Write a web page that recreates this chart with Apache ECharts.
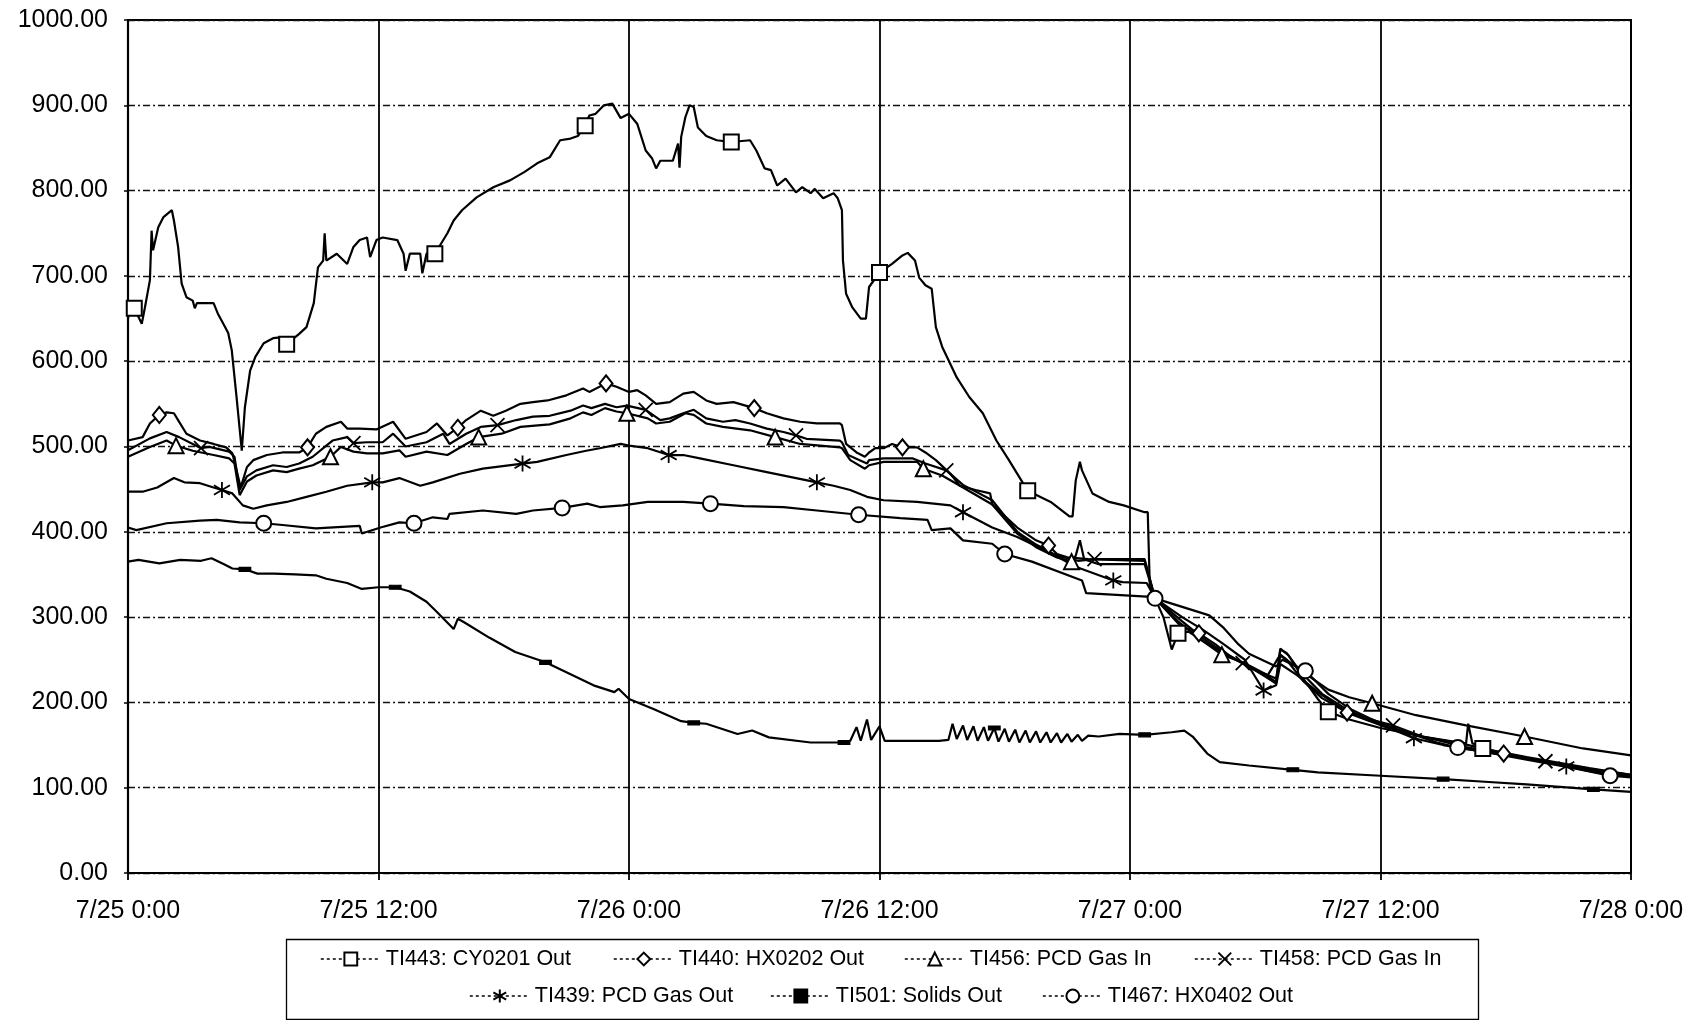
<!DOCTYPE html>
<html>
<head>
<meta charset="utf-8">
<script src="https://cdn.jsdelivr.net/npm/echarts@6/dist/echarts.min.js"></script>
<style>
html,body{margin:0;padding:0;background:#fff;}
#chart{width:1702px;height:1020px;}
</style>
</head>
<body>
<div id="chart"></div>
<script>
// ---- axis tick labels ----
const xTickLabels = ['7/25 0:00','7/25 12:00','7/26 0:00','7/26 12:00','7/27 0:00','7/27 12:00','7/28 0:00'];

// ---- series names ----
const names = ['TI443: CY0201 Out','TI440: HX0202 Out','TI456: PCD Gas In','TI458: PCD Gas In',
               'TI439: PCD Gas Out','TI501: Solids Out','TI467: HX0402 Out'];

// ---- data: [hours since 7/25 0:00, temperature] ----
const ti443 = [[0,650],[0.1,663],[0.3,662],[0.66,644],[0.81,663],[1.05,695],[1.13,753],[1.2,730],[1.45,757],[1.7,769],[2.1,777],[2.2,765],[2.4,734],[2.57,691],[2.8,675],[3.1,671],[3.2,662],[3.3,668],[4.1,668],[4.3,656],[4.65,640],[4.8,633],[4.97,613],[5.2,558],[5.45,495],[5.6,546],[5.85,589],[6.1,605],[6.5,621],[6.95,627],[7.3,628],[7.6,620],[8.2,632],[8.55,640],[8.9,668],[9.1,710],[9.35,718],[9.42,750],[9.5,718],[10.0,726],[10.5,714],[10.8,734],[11.1,742],[11.45,745],[11.6,722],[11.9,742],[12.2,745],[12.9,742],[13.2,726],[13.3,706],[13.5,726],[14.0,726],[14.1,703],[14.3,726],[14.7,726],[15.3,750],[15.6,765],[16.0,777],[16.7,792],[17.5,804],[18.3,812],[19.0,822],[19.6,832],[20.2,839],[20.7,859],[21.2,861],[21.55,864],[21.9,876],[22.1,888],[22.4,890],[22.8,900],[23.2,902],[23.6,885],[24.0,890],[24.4,878],[24.8,847],[25.1,838],[25.3,826],[25.5,835],[26.1,835],[26.35,855],[26.42,827],[26.5,863],[26.7,886],[26.9,900],[27.1,898],[27.3,874],[27.7,864],[28.2,859],[28.9,857],[29.8,859],[30.1,847],[30.5,826],[30.8,824],[31.1,806],[31.5,814],[32.0,798],[32.3,804],[32.7,797],[32.9,802],[33.3,791],[33.8,797],[34.0,791],[34.2,777],[34.25,718],[34.4,679],[34.7,663],[35.1,650],[35.35,650],[35.5,687],[36.0,704],[36.6,714],[37.1,724],[37.35,727],[37.7,718],[37.9,698],[38.2,689],[38.5,685],[38.7,640],[39.0,617],[39.7,581],[40.3,558],[40.95,539],[41.6,507],[42.2,484],[43.1,448],[44.2,435],[45.1,418],[45.25,418],[45.4,460],[45.6,482],[45.7,472],[46.2,445],[47.0,435],[47.7,431],[48.7,423],[48.85,423],[48.95,335],[49.2,322],[49.6,300],[50.0,262],[50.3,281],[50.8,283],[51.5,272],[52.5,258],[53.5,245],[54.5,230],[55.0,222],[55.2,263],[55.6,255],[56.3,228],[57.0,204],[57.5,189],[58.5,180],[60.0,170],[62.0,160],[63.5,154],[64.1,152],[64.2,175],[64.4,152],[64.9,146],[67.0,136],[70.0,123],[72.0,115]];

const ti440 = [[0,507],[0.7,511],[1.05,527],[1.5,537],[1.85,540],[2.2,539],[2.4,531],[2.8,515],[3.45,507],[4.1,503],[4.7,499],[5.0,492],[5.4,452],[5.7,476],[6.0,484],[6.65,490],[7.4,493],[8.2,493],[8.6,499],[9.0,515],[9.5,523],[10.2,529],[10.5,521],[11.1,521],[11.9,520],[12.7,529],[13.3,509],[14.3,517],[14.8,527],[15.3,513],[15.8,522],[16.2,531],[16.9,542],[17.5,536],[18.1,542],[18.8,550],[19.4,552],[20.1,554],[21.0,560],[21.8,568],[22.1,564],[22.9,574],[23.4,570],[24.0,564],[24.4,566],[24.8,560],[25.3,550],[25.95,552],[26.6,562],[27.1,564],[27.7,554],[28.2,550],[29.0,552],[30.0,545],[30.6,539],[31.4,533],[32.2,529],[33.0,527],[34.1,527],[34.2,525],[34.4,503],[34.9,493],[35.3,488],[35.5,493],[35.8,498],[36.2,498],[36.6,503],[37.1,499],[37.8,499],[38.2,493],[38.7,484],[39.4,468],[39.85,454],[40.6,449],[41.3,445],[41.4,432],[42.6,405],[43.5,390],[44.1,384],[44.5,374],[45.0,370],[46.0,368],[48.7,366],[49.2,322],[50.4,290],[51.3,281],[52.1,268],[52.9,252],[54.0,238],[55.0,228],[55.2,255],[55.5,250],[56.3,225],[57.2,205],[58.4,188],[59.5,178],[60.6,168],[62.0,160],[64.0,148],[65.9,140],[68.0,130],[70.0,120],[72.0,113]];

const ti456 = [[0,488],[1.05,499.5],[1.85,507],[2.3,501],[3.1,495],[4.1,490],[4.85,486],[5.1,480],[5.35,443],[5.7,459],[6.15,466],[6.95,472],[7.6,470],[8.2,474],[8.85,478],[9.7,488],[10.2,499.5],[10.8,494],[11.45,492],[12.2,492],[13.0,495.5],[13.3,488],[14.3,494],[15.3,490],[16.2,503],[16.8,511],[17.9,515],[18.8,523],[20.2,526],[21.2,533],[21.8,540],[22.2,537],[22.85,545],[23.4,541],[23.9,539],[24.9,533],[25.3,527],[25.95,529],[26.7,539],[27.1,537],[27.7,527],[28.5,523],[29.8,519],[31.0,511],[32.2,503],[34.1,499],[34.2,498],[34.6,484],[35.3,474],[35.5,478],[36.2,482],[37.8,482],[38.1,474],[39.0,466],[40.0,452],[41.4,432],[42.6,398],[43.5,382],[44.5,370],[45.2,365],[45.4,372],[45.6,390],[45.8,368],[46.5,362],[48.7,362],[49.2,322],[50.3,295],[51.3,275],[52.4,256],[53.5,246],[54.6,232],[55.2,256],[55.6,248],[56.5,232],[57.5,215],[58.5,206],[59.6,199],[61.7,185],[64.1,173],[66.9,160],[69.7,146],[72.0,138]];

const ti458 = [[0,495.5],[1.05,509.5],[1.85,517],[2.45,511],[3.1,503],[3.5,498],[3.9,499.5],[4.85,494],[5.1,488],[5.35,449],[5.7,465],[6.15,472],[6.95,478],[7.6,476],[8.2,480],[8.85,488],[9.5,501],[9.8,507],[10.5,511],[10.8,504],[11.45,505],[12.2,505],[12.7,515],[13.3,500],[14.3,505],[15.1,515],[15.4,503],[16.2,515],[16.9,523],[17.7,525],[18.6,531],[19.4,535],[20.2,536],[21.2,542],[21.8,548],[22.2,545],[22.85,550],[23.4,546],[23.9,548],[24.8,543],[25.5,531],[25.95,533],[26.6,539],[27.1,543],[27.7,533],[28.5,529],[29.1,531],[29.8,527],[30.6,521],[31.4,517],[32.0,513],[32.5,509],[34.1,507],[34.2,505],[34.5,490],[35.05,484],[35.4,480],[35.5,484],[36.2,486],[37.6,486],[38.2,480],[39.2,472],[40.0,455],[41.4,437],[42.6,400],[43.5,385],[44.5,372],[45.5,366],[46.3,368],[48.7,368],[49.2,322],[50.5,295],[51.5,275],[52.4,260],[53.4,246],[54.5,232],[55.0,224],[55.2,262],[55.5,258],[56.2,235],[57.2,210],[58.5,190],[59.8,178],[60.6,173],[62.0,160],[64.0,151],[66.0,140],[67.9,131],[70.0,122],[72.0,115]];

const ti439 = [[0,447],[0.7,447],[1.4,452],[2.2,463],[2.7,458],[3.45,457],[4.1,452],[4.5,449],[5.0,445],[5.5,431],[6.0,427],[6.65,431],[7.6,435],[8.55,441],[9.5,447],[10.5,454],[11.7,458],[12.2,458],[13.0,463],[14.0,454],[14.6,458],[15.9,468],[17.0,474],[18.9,480],[19.6,482],[21.0,490],[21.95,495],[22.6,498],[23.6,503],[24.0,501],[24.9,498],[25.9,490],[26.6,490],[27.4,486],[29.0,478],[30.6,470],[33.0,458],[33.8,454],[34.6,449],[35.4,441],[36.2,437],[37.8,435],[39.4,431],[40.0,423],[41.4,405],[42.6,394],[44.2,375],[45.4,359],[47.2,343],[47.65,341],[48.8,340],[49.2,322],[50.5,300],[51.5,285],[52.5,268],[53.5,250],[54.4,214],[55.0,220],[55.2,245],[56.0,232],[57.0,212],[58.0,195],[59.0,183],[60.0,174],[61.6,158],[63.0,150],[65.0,142],[67.0,134],[68.9,125],[70.5,117],[72.0,113]];

const ti501 = [[0,365],[0.5,367],[1.5,363],[2.5,367],[3.5,366],[4.0,369],[4.6,362],[5.0,357],[5.6,356],[6.2,351],[7.0,351],[8.0,350],[9.0,349],[9.5,345],[10.5,340],[11.2,333],[12.0,335],[12.8,335],[13.5,330],[14.3,318],[14.8,306],[15.6,286],[15.8,298],[16.1,294],[17.3,276],[18.55,259],[20.0,247],[22.3,220],[23.3,212],[23.5,216],[24.0,204],[25.2,192],[26.5,178],[27.1,176],[27.7,175],[29.2,163],[29.9,167],[30.7,159],[32.7,153],[34.1,153],[34.3,153],[34.6,155],[34.9,171],[35.1,155],[35.4,180],[35.6,156],[36.0,172],[36.25,155],[38.85,155],[39.3,156],[39.5,175],[39.7,157],[40.0,173],[40.2,156],[40.5,172],[40.7,155],[41.0,171],[41.2,155],[41.5,170],[41.7,154],[42.0,169],[42.2,154],[42.5,168],[42.7,153],[43.0,167],[43.2,153],[43.5,166],[43.7,153],[44.0,165],[44.2,153],[44.5,164],[44.7,153],[45.0,163],[45.2,154],[45.5,162],[45.7,155],[46.0,161],[46.5,160],[47.5,163],[48.7,162],[50.0,165],[50.6,167],[51.0,160],[51.7,140],[52.3,130],[53.7,126],[55.8,121],[57.0,118],[60.0,114],[63.0,110],[65.0,107],[67.0,104],[69.7,99],[70.2,98],[72.0,95]];

const ti467 = [[0,405],[0.4,402],[1.85,410],[3.45,413],[4.25,414],[5.35,411],[6.5,410],[7.4,408],[9.0,404],[11.1,407],[11.2,398],[12.1,405],[13.0,411],[13.7,410],[14.6,417],[15.3,415],[15.4,421],[17.0,425],[18.6,421],[19.4,425],[20.8,428],[22.0,433],[22.6,429],[23.7,431],[24.9,435],[26.6,435],[27.9,433],[29.5,430],[31.4,429],[33.0,425],[35.0,420],[37.0,416],[38.3,414],[38.5,402],[39.4,404],[40.0,390],[41.4,386],[42.0,374],[43.3,365],[45.7,343],[45.9,328],[48.8,324],[49.2,322],[50.5,312],[51.8,302],[52.5,287],[53.2,268],[53.7,257],[55.0,242],[55.3,250],[56.4,237],[57.5,210],[58.5,193],[59.5,181],[60.5,171],[61.6,162],[62.7,153],[63.7,147],[65.0,142],[67.0,133],[69.0,124],[71.0,114],[72.0,112]];

// ---- hours at which each series shows its marker ----
const marks443 = [0.3,7.6,14.7,21.9,28.9,36.0,43.1,50.3,57.5,64.9];
const marks440 = [1.5,8.6,15.8,22.9,30.0,37.1,44.1,51.3,58.4,65.9];
const marks456 = [2.3,9.7,16.8,23.9,31.0,38.1,45.2,52.4,59.6,66.9];
const marks458 = [3.5,10.8,17.7,24.8,32.0,39.2,46.3,53.4,60.6,67.9];
const marks439 = [4.5,11.7,18.9,25.9,33.0,40.0,47.2,54.4,61.6,68.9];
const marks501 = [5.6,12.8,20.0,27.1,34.3,41.5,48.7,55.8,63.0,70.2];
const marks467 = [6.5,13.7,20.8,27.9,35.0,42.0,49.2,56.4,63.7,71.0];

const X_PATH = 'path://M0,0L10,10M10,0L0,10';
const AST_PATH = 'path://M5,-1L5,11M0.5,1.5L9.5,8.5M9.5,1.5L0.5,8.5';

function build(name, pts, marks, symbol, size) {
  const data = pts.map(p => {
    const isMark = marks.some(m => Math.abs(m - p[0]) < 1e-6);
    return isMark ? { value: p } : { value: p, symbol: 'none' };
  });
  return {
    name: name, type: 'line', data: data,
    symbol: symbol, symbolSize: size, showSymbol: true, showAllSymbol: true,
    lineStyle: { color: '#000', width: 2.2 },
    itemStyle: { color: '#000', borderColor: '#000', borderWidth: 1.8 },
    emphasis: { disabled: true },
    animation: false
  };
}

const FONT = '"Liberation Sans", Arial, Helvetica, sans-serif';
const chart = echarts.init(document.getElementById('chart'), null, { renderer: 'canvas' });

const series = [
  build(names[5], ti501, marks501, 'rect', [10, 4]),
  build(names[0], ti443, marks443, 'emptyRect', 15),
  build(names[1], ti440, marks440, 'emptyDiamond', [13, 16]),
  build(names[2], ti456, marks456, 'emptyTriangle', 15),
  build(names[3], ti458, marks458, X_PATH, 14),
  build(names[4], ti439, marks439, AST_PATH, 16),
  build(names[6], ti467, marks467, 'emptyCircle', 15)
];

// legend item placement (one legend component per entry)
const legendLefts = [315, 608, 899, 1189, 464, 765, 1037];
const legendTops  = [943, 943, 943, 943, 980, 980, 980];

const legends = names.map((n, i) => ({
  orient: 'horizontal', itemWidth: 60, itemHeight: 16, itemGap: 10,
  left: legendLefts[i], top: legendTops[i],
  textStyle: { fontFamily: FONT, fontSize: 21.5, color: '#000' },
  lineStyle: { type: [3, 3], width: 1.6 },
  selectedMode: false,
  data: [n]
}));

chart.setOption({
  backgroundColor: '#fff',
  animation: false,
  grid: { left: 128, right: 71, top: 20, bottom: 147, show: true, borderColor: '#000', borderWidth: 2, backgroundColor: 'transparent' },
  xAxis: {
    type: 'value', min: 0, max: 72, interval: 12,
    axisLine: { show: true, lineStyle: { color: '#000', width: 2.2 } },
    axisTick: { show: true, length: 7, lineStyle: { color: '#000', width: 1.8 } },
    axisLabel: { margin: 26, fontFamily: FONT, fontSize: 25, color: '#000',
      formatter: v => xTickLabels[Math.round(v / 12)] },
    splitLine: { show: true, lineStyle: { color: '#000', width: 1.8, type: 'solid' } }
  },
  yAxis: {
    type: 'value', min: 0, max: 1000, interval: 100,
    axisLine: { show: true, lineStyle: { color: '#000', width: 2.2 } },
    axisTick: { show: true, length: 4, lineStyle: { color: '#000', width: 1.5 } },
    axisLabel: { margin: 20, fontFamily: FONT, fontSize: 25, color: '#000',
      formatter: v => v.toFixed(2) },
    splitLine: { show: true, lineStyle: { color: '#111', width: 1.3, type: [7, 3, 2, 3] } }
  },
  legend: legends,
  graphic: [{
    type: 'rect', left: 284, top: 937, silent: true,
    shape: { width: 1192, height: 80 },
    style: { fill: 'none', stroke: '#000', lineWidth: 1.3 }
  }],
  series: series
});
</script>
</body>
</html>
